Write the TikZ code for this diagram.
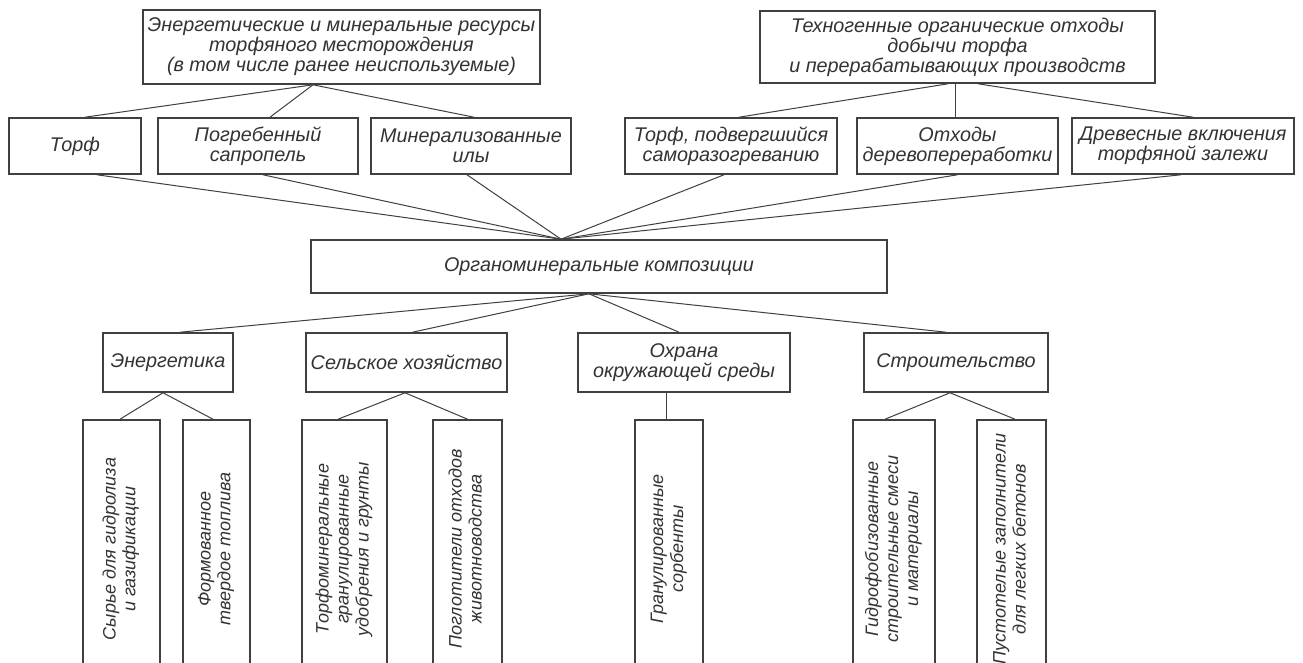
\documentclass[tikz,border=0pt]{standalone}
\usepackage{fontspec}
\setmainfont{Liberation Sans}
\usepackage{graphicx}
\newcommand{\vtext}[1]{\rotatebox{90}{\fontsize{9}{10}\selectfont\begin{tabular}{@{}c@{}}#1\end{tabular}}}

\begin{document}
\begin{tikzpicture}[x=0.5pt, y=-0.5pt,
  every node/.style={font={\fontsize{9.9}{10}\selectfont\itshape}, text=black!80},
  box/.style={draw=black!75, line width=0.8pt, inner sep=0pt, align=center},
  vbox/.style={box, minimum height=129pt},
  link/.style={draw=black!75, line width=0.5pt}]
\useasboundingbox (0,0) rectangle (1303,663);
\clip (0,0) rectangle (1303,663);
\fill[white] (0,0) rectangle (1303,663);

% sources
\node[box, minimum width=198.5pt, minimum height=37pt] (res) at (341.5,47)
  {Энергетические и минеральные ресурсы\\торфяного месторождения\\(в том числе ранее неиспользуемые)};
\node[box, minimum width=197.5pt, minimum height=36pt] (tech) at (957.5,47)
  {Техногенные органические отходы\\добычи торфа\\и перерабатывающих производств};

\node[box, minimum width=66pt, minimum height=28pt] (torf) at (75,146) {Торф};
\node[box, minimum width=100pt, minimum height=28pt] (sapr) at (258,146) {Погребенный\\сапропель};
\node[box, minimum width=100pt, minimum height=28pt] (ily) at (471,146) {Минерализованные\\илы};
\node[box, minimum width=106pt, minimum height=28pt] (samo) at (731,146) {Торф, подвергшийся\\саморазогреванию};
\node[box, minimum width=100.5pt, minimum height=28pt] (dere) at (957.5,146) {Отходы\\деревопереработки};
\node[box, minimum width=111pt, minimum height=28pt] (drev) at (1183,146) {Древесные включения\\торфяной залежи};

% composition
\node[box, minimum width=288pt, minimum height=26.5pt] (comp) at (599,266.5) {Органоминеральные композиции};

% fields of use
\node[box, minimum width=65pt, minimum height=29.5pt] (ener) at (168,362.5) {Энергетика};
\node[box, minimum width=100.5pt, minimum height=29.5pt] (selk) at (406.5,362.5) {Сельское хозяйство};
\node[box, minimum width=106pt, minimum height=29.5pt] (ohr) at (684,362.5) {Охрана\\окружающей среды};
\node[box, minimum width=92pt, minimum height=29.5pt] (stro) at (956,362.5) {Строительство};

% products
\node[vbox, minimum width=38.5pt] (syr) at (121.5,549) {\vtext{Сырье для гидролиза\\и газификации}};
\node[vbox, minimum width=33.5pt] (form) at (216.5,549) {\vtext{Формованное\\твердое топлива}};
\node[vbox, minimum width=42.5pt] (tmin) at (344.5,549) {\vtext{Торфоминеральные\\гранулированные\\удобрения и грунты}};
\node[vbox, minimum width=34.5pt] (pogl) at (467.5,549) {\vtext{Поглотители отходов\\животноводства}};
\node[vbox, minimum width=34pt] (gran) at (669,549) {\vtext{Гранулированные\\сорбенты}};
\node[vbox, minimum width=41pt] (gidr) at (894,549) {\vtext{Гидрофобизованные\\строительные смеси\\и материалы}};
\node[vbox, minimum width=34.5pt] (pust) at (1011.5,549) {\vtext{Пустотелые заполнители\\для легких бетонов}};

% links
\foreach \n/\s in {torf/5pt, sapr/6pt, ily/1.5pt}
  \draw[link] ([xshift=-14.25pt]res.south) -- ([xshift=\s]\n.north);
\draw[link] ([xshift=-4.75pt]tech.south) -- ([xshift=4pt]samo.north);
\draw[link] ([xshift=-1.25pt]tech.south) -- ([xshift=-1.25pt]dere.north);
\draw[link] ([xshift=10.25pt]tech.south) -- ([xshift=5pt]drev.north);

\foreach \n/\s in {torf/11pt, sapr/2.5pt, ily/-2pt, samo/-3.5pt, dere/0pt, drev/-1pt}
  \draw[link] ([xshift=\s]\n.south) -- ([xshift=-19pt]comp.north);
\foreach \n/\s in {ener/6pt, selk/3pt, ohr/-2.5pt, stro/-5pt}
  \draw[link] ([xshift=-5pt]comp.south) -- ([xshift=\s]\n.north);

\foreach \p/\ps/\c/\cs in {ener/-2.5pt/syr/-0.75pt, ener/-2.5pt/form/-1.75pt,
    selk/-0.75pt/tmin/-3.25pt, selk/-0.75pt/pogl/0pt, ohr/-9pt/gran/-1.5pt,
    stro/-3pt/gidr/-4.5pt, stro/-3pt/pust/1.75pt}
  \draw[link] ([xshift=\ps]\p.south) -- ([xshift=\cs]\c.north);
\end{tikzpicture}
\end{document}
